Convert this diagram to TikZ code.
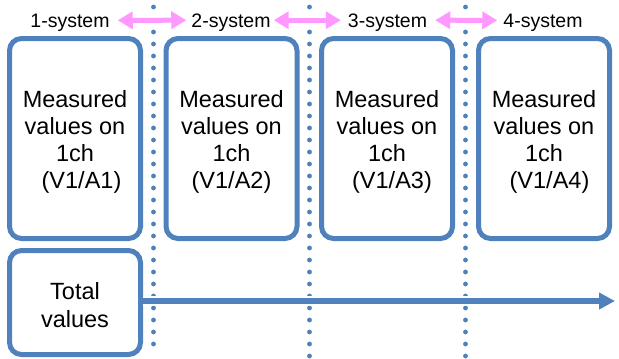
\documentclass[tikz,border=0pt]{standalone}
\usepackage{fontspec}
\setmainfont{Liberation Sans}
\usetikzlibrary{arrows.meta}
\definecolor{boxblue}{HTML}{4F81BD}
\definecolor{pinkarr}{HTML}{FF99FF}
\newcommand{\toppad}{\rule{0pt}{23pt}}
\tikzset{
  mbox/.style={draw=boxblue, line width=5pt, rounded corners=12pt, fill=white,
    minimum width=131pt, minimum height=200pt, align=center, inner sep=0pt,
    font=\fontsize{23.5}{27}\selectfont},
  tbox/.style={mbox, minimum height=104pt, font=\fontsize{23.5}{28}\selectfont},
  syslabel/.style={anchor=base, inner sep=0pt, font=\fontsize{19.5}{22}\selectfont},
  pinkarrow/.style={draw=pinkarr, line width=5pt,
    {Triangle[width=17pt,length=15pt]}-{Triangle[width=17pt,length=15pt]}},
  dotline/.style={draw=boxblue, line width=4.8pt, line cap=round, dash pattern=on 0pt off 12pt},
  bluearrow/.style={draw=boxblue, line width=5.5pt, -{Triangle[width=16pt,length=16pt]}}
}
\begin{document}
\begin{tikzpicture}[x=1pt,y=-1pt]
\useasboundingbox (0,0) rectangle (619,359);
% dotted separators
\foreach \xx/\yend in {153.5/344,309.5/359,465.5/359}{
  \fill[boxblue] (\xx,7) circle (2.4pt);
  \draw[dotline] (\xx,32) -- (\xx,\yend);
}
% labels
\node[syslabel] (l1) at (70,27) {1-system};
\node[syslabel] (l2) at (231,27) {2-system};
\node[syslabel] (l3) at (387.5,27) {3-system};
\node[syslabel] (l4) at (543,27) {4-system};
\draw[pinkarrow] ([xshift=8pt,yshift=2pt]l1.east) -- ([xshift=-5pt,yshift=2pt]l2.west);
\draw[pinkarrow] ([xshift=3pt,yshift=2pt]l2.east) -- ([xshift=-7pt,yshift=2pt]l3.west);
\draw[pinkarrow] ([xshift=8pt,yshift=2pt]l3.east) -- ([xshift=-6pt,yshift=2pt]l4.west);
% boxes
\node[mbox] (b1) at (75,138.5) {\toppad Measured\\values on\\1ch\\\hspace*{13pt}(V1/A1)};
\node[mbox] (b2) at (231.5,138.5) {\toppad Measured\\values on\\1ch\\(V1/A2)};
\node[mbox] (b3) at (387,138.5) {\toppad Measured\\values on\\1ch\\\hspace*{10pt}(V1/A3)};
\node[mbox] (b4) at (544,138.5) {\toppad Measured\\values on\\1ch\\\hspace*{11pt}(V1/A4)};
\node[tbox] (tot) at (75,302.5) {\toppad Total\\values};
\coordinate (end) at (615,301);
\draw[bluearrow, preaction={draw=white, line width=10pt, -}] (tot.east |- end) -- (end);
\end{tikzpicture}
\end{document}
